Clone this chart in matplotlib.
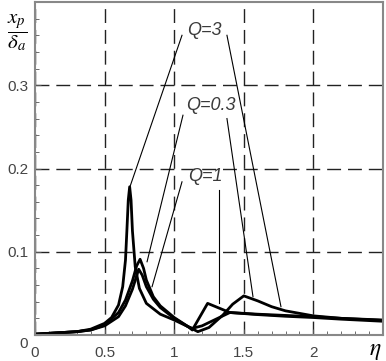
import matplotlib
matplotlib.use('Agg')
import matplotlib.pyplot as plt
from matplotlib.ticker import MultipleLocator
from matplotlib.transforms import ScaledTranslation

plt.rcParams['mathtext.fontset'] = 'stix'

# --- data ---
# Q = 3 : sharp first peak
eta_q3 = [0, 0.1, 0.2, 0.3, 0.4, 0.5, 0.55, 0.6, 0.63, 0.65, 0.66, 0.67, 0.68, 0.69, 0.70,
          0.72, 0.75, 0.8, 0.9, 1.0, 1.1, 1.13, 1.2, 1.3, 1.4, 1.6, 1.8, 2.0, 2.2, 2.5]
val_q3 = [0.001, 0.002, 0.003, 0.004, 0.007, 0.014, 0.021, 0.036, 0.058, 0.09, 0.125, 0.162, 0.178, 0.162, 0.125,
          0.082, 0.056, 0.038, 0.025, 0.018, 0.010, 0.008, 0.011, 0.019, 0.027, 0.025, 0.0235, 0.022, 0.020, 0.018]

# Q = 0.3 : second peak near 1.5
eta_q03 = [0, 0.1, 0.2, 0.3, 0.4, 0.5, 0.6, 0.65, 0.7, 0.73, 0.755, 0.78, 0.8, 0.85, 0.9, 1.0,
           1.1, 1.17, 1.25, 1.35, 1.42, 1.5, 1.6, 1.7, 1.8, 1.9, 2.0, 2.2, 2.5]
val_q03 = [0.001, 0.002, 0.003, 0.004, 0.006, 0.012, 0.027, 0.042, 0.065, 0.083, 0.091, 0.08, 0.066, 0.046,
           0.035, 0.021, 0.010, 0.004, 0.009, 0.024, 0.037, 0.047, 0.041, 0.034, 0.029, 0.026, 0.023, 0.020, 0.0175]

# Q = 1 : sharp second peak near 1.24
eta_q1 = [0, 0.1, 0.2, 0.3, 0.4, 0.5, 0.6, 0.65, 0.7, 0.745, 0.77, 0.8, 0.85, 0.9, 1.0,
          1.1, 1.13, 1.24, 1.4, 1.6, 1.8, 2.0, 2.2, 2.5]
val_q1 = [0.001, 0.002, 0.003, 0.004, 0.006, 0.011, 0.022, 0.035, 0.055, 0.079, 0.072, 0.058, 0.043, 0.033, 0.020,
          0.010, 0.006, 0.038, 0.027, 0.0245, 0.0225, 0.021, 0.019, 0.0165]

# labels and their leader lines (text pos, line ends)
labels = ['Q=3', 'Q=0.3', 'Q=1']
label_pos = [(1.214, 0.366), (1.264, 0.276), (1.221, 0.190)]
leaders = [
    [((1.056, 0.360), (0.682, 0.178)), ((1.379, 0.360), (1.767, 0.034))],
    [((1.063, 0.264), (0.805, 0.088)), ((1.379, 0.260), (1.566, 0.046))],
    [((1.056, 0.184), (0.841, 0.058)), ((1.322, 0.174), (1.322, 0.038))],
]

fig = plt.figure(figsize=(3.86, 3.61), dpi=100)
ax = fig.add_axes([35 / 386, 1 - 335 / 361, 348 / 386, 333 / 361])

for e, v in [(eta_q3, val_q3), (eta_q03, val_q03), (eta_q1, val_q1)]:
    ax.plot(e, v, color='black', lw=2.0, solid_joinstyle='round')

for (lx, ly), txt, segs in zip(label_pos, labels, leaders):
    ax.text(lx, ly, txt, ha='center', va='center', fontsize=13, style='italic',
            family='Liberation Sans', color='#3a3a3a')
    for (x0, y0), (x1, y1) in segs:
        ax.plot([x0, x1], [y0, y1], color='black', lw=0.8)

ax.set_xlim(0, 2.5)
ax.set_ylim(0, 0.4)
ax.set_xticks([0, 0.5, 1, 1.5, 2])
ax.set_xticklabels(['0', '0.5', '1', '1.5', '2'])
ax.set_yticks([0, 0.1, 0.2, 0.3])
ax.set_yticklabels(['0', '0.1', '0.2', '0.3'])
ax.xaxis.set_minor_locator(MultipleLocator(0.1))
ax.yaxis.set_minor_locator(MultipleLocator(0.02))
ax.tick_params(which='both', direction='in', color='#555555', top=False, right=False)
ax.tick_params(which='major', length=4, labelsize=11, labelcolor='#444444', pad=5)
ax.tick_params(axis='x', which='major', pad=8)
ax.tick_params(which='minor', length=3)
for lab in ax.get_xticklabels() + ax.get_yticklabels():
    lab.set_family('Liberation Sans')
# the "0" on the y axis sits a little lower in the original
y0lab = ax.get_yticklabels()[0]
y0lab.set_transform(y0lab.get_transform() + ScaledTranslation(0, -7 / 100, fig.dpi_scale_trans))

ax.grid(True, which='major', color='#222222', lw=1.0, linestyle=(0, (10, 5)))
for s in ax.spines.values():
    s.set_color('#888888')
    s.set_linewidth(1.5)

fig.text(17 / 386, 1 - 33 / 361, r'$\dfrac{x_p}{\delta_a}$', ha='center', va='center', fontsize=15)
fig.text(375 / 386, 1 - 350 / 361, r'$\eta$', ha='center', va='center', fontsize=17)

fig.savefig('out.png', dpi=100)
